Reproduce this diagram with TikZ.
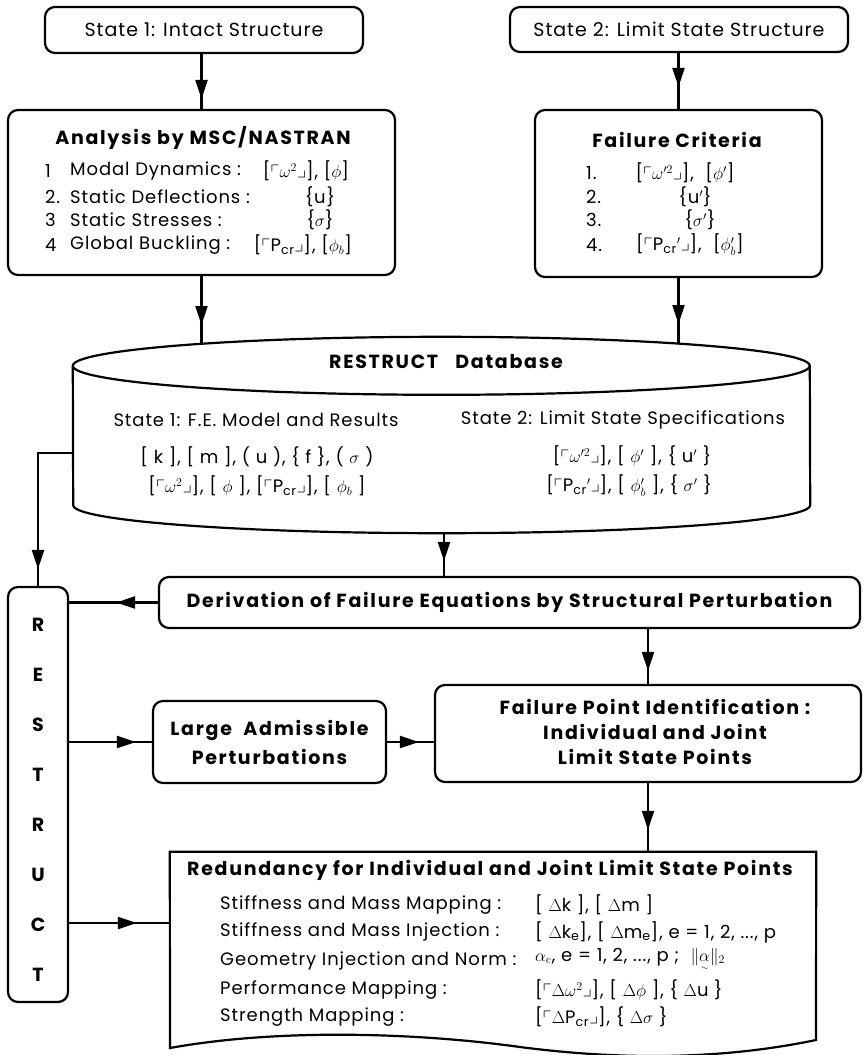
\documentclass[tikz,border=0pt]{standalone}
\usepackage{amsmath,amssymb}
\usepackage{fontspec}
\setmainfont{Poppins}[LetterSpace=5,BoldFeatures={LetterSpace=9}]
\usetikzlibrary{arrows.meta,decorations.markings}
\tikzstyle{box}=[draw,line width=2.2pt,rounded corners=10pt,inner sep=0pt]
\tikzstyle{normaltext}=[inner sep=0pt,font=\fontsize{18}{21}\selectfont]
\tikzstyle{boldtext}=[inner sep=0pt,font=\fontsize{19}{22}\selectfont\bfseries]
\tikzstyle{edge}=[draw,line width=2.2pt]
\tikzstyle{arr}=[edge,postaction={decorate},decoration={markings,mark=at position -#1 with {\arrow{Triangle[length=19pt,width=12pt]}}}]
\newcommand{\diagm}[1]{$\ulcorner$#1$\lrcorner$}
\newcommand{\tildevec}[1]{\underset{\raisebox{1.5pt}{$\scriptscriptstyle\sim$}}{#1}}

\begin{document}
\begin{tikzpicture}[x=1pt,y=-1pt]
    \useasboundingbox (0,0) rectangle (863,1055);
    % The two states on top
    \node[box,normaltext,font=\fontsize{19}{22}\selectfont,minimum width=318pt,minimum height=46pt] (state1) at (204,30) {State 1: Intact Structure};
    \node[box,normaltext,font=\fontsize{19}{22}\selectfont,minimum width=338pt,minimum height=45pt] (state2) at (679,29.5) {State 2: Limit State Structure};

    % Analysis and failure criteria
    \node[box,minimum width=387pt,minimum height=165pt] (analysis) at (201.5,192.5) {};
    \node[boldtext] (anatitle) at (203,138) {Analysis by MSC/NASTRAN};
    \foreach \i/\y/\n/\lab/\val/\vx in {1/171/1/{Modal Dynamics :}/{[\diagm{$\omega^2$}], [$\phi$]}/306,
        2/197/2./{Static Deflections :}/{\{u\}}/320,
        3/220/3/{Static Stresses :}/{\{$\sigma$\}}/320,
        4/245/4/{Global Buckling :}/{[\diagm{P\textsubscript{cr}}], [$\phi_b$]}/303}
    {
        \node[normaltext,anchor=west] (anum\i) at (45,\y) {\n};
        \node[normaltext,anchor=west] (alab\i) at (70,\y) {\lab};
        \node[normaltext] (aval\i) at (\vx,\y) {\val};
    }

    \node[box,minimum width=287pt,minimum height=167pt] (crit) at (678.5,193.5) {};
    \node[boldtext] (crittitle) at (677,140) {Failure Criteria};
    \foreach \i/\y/\val/\vx in {1/173/{[\diagm{$\omega'^2$}], \ [$\phi'$]}/685,
        2/197/{\{u$'$\}}/695,
        3/220/{\{$\sigma'$\}}/700,
        4/245/{[\diagm{P\textsubscript{cr}$'$}], \ [$\phi_b'$]}/690}
    {
        \node[normaltext,anchor=west] (cnum\i) at (586,\y) {\i.};
        \node[normaltext] (cval\i) at (\vx,\y) {\val};
    }

    % Database cylinder
    \node[minimum width=737pt,minimum height=139pt,inner sep=0pt] (db) at (441.5,435.5) {};
    \draw[edge] (db.north west) arc[start angle=180,end angle=360,x radius=368.5,y radius=29]
        -- (db.south east) arc[start angle=0,end angle=180,x radius=368.5,y radius=28] -- cycle;
    \draw[edge] (db.north west) arc[start angle=180,end angle=0,x radius=368.5,y radius=29];
    \node[boldtext] (dbtitle) at (446,362) {RESTRUCT\ \ \ Database};
    \node[normaltext] (s1head) at (256,420) {State 1: F.E. Model and Results};
    \node[normaltext] (s1row1) at (257,457) {[ k ], [ m ], ( u ), \{ f \}, ( $\sigma$ )};
    \node[normaltext] (s1row2) at (257,486) {[\diagm{$\omega^2$}], [ $\phi$ ], [\diagm{P\textsubscript{cr}}], [ $\phi_b$ ]};
    \node[normaltext] (s2head) at (623,420) {State 2: Limit State Specifications};
    \node[normaltext] (s2row1) at (632,456) {[\diagm{$\omega'^2$}], [ $\phi'$ ], \{ u$'$ \}};
    \node[normaltext] (s2row2) at (629,486) {[\diagm{P\textsubscript{cr}$'$}], [ $\phi_b'$ ], \{ $\sigma'$ \}};
    \coordinate (dbin1) at (201.5,344);
    \coordinate (dbin2) at (678.5,344);
    \coordinate (dbout) at (444,533);
    \coordinate (dbleft) at (73,453);

    % Lower part of the chart
    \node[box,boldtext,minimum width=701pt,minimum height=51pt] (deriv) at (509.5,602.5) {Derivation of Failure Equations by Structural Perturbation};
    \node[box,minimum width=60pt,minimum height=415pt] (restruct) at (38,794.5) {};
    \foreach \c [count=\i from 0] in {R,E,S,T,R,U,C,T}
        \node[boldtext] (rs\i) at (38,625+50*\i) {\c};
    \node[box,boldtext,minimum width=233pt,minimum height=82pt,align=center,font=\fontsize{19}{29}\selectfont\bfseries] (large) at (269.5,742) {Large\ \ Admissible\\Perturbations};
    \node[box,minimum width=426pt,minimum height=97pt] (fail) at (648,733.5) {};
    \node[boldtext,align=center,font=\fontsize{19}{25}\selectfont\bfseries] (failtext) at (655,732) {Failure Point Identification :\\Individual and Joint\\Limit State Points};

    % Redundancy sheet
    \node[minimum width=646pt,minimum height=192pt,inner sep=0pt] (red) at (493,948) {};
    \draw[edge] (red.north west) -- (red.north east) -- (816,1040)
        .. controls (720,1060) and (620,1060) .. (520,1047)
        .. controls (420,1033) and (280,1028) .. (170,1048) -- cycle;
    \node[boldtext] (redtitle) at (490,870) {Redundancy for Individual and Joint Limit State Points};
    \foreach \i/\y/\lab/\val in {1/905/{Stiffness and Mass Mapping :}/{[ $\Delta$k ], [ $\Delta$m ]},
        2/932/{Stiffness and Mass Injection :}/{[ $\Delta$k\textsubscript{e}], [ $\Delta$m\textsubscript{e}], e = 1, 2, ..., p},
        3/961/{Geometry Injection and Norm :}/{$\alpha_e$, e = 1, 2, ..., p ;\ \ $\|\tildevec{\alpha}\|_2$},
        4/990/{Performance Mapping :}/{[\diagm{$\Delta\omega^2$}], [ $\Delta\phi$ ], \{ $\Delta$u \}},
        5/1017/{Strength Mapping :}/{[\diagm{$\Delta$P\textsubscript{cr}}], \{ $\Delta\sigma$ \}}}
    {
        \node[normaltext,anchor=west] (rlab\i) at (220,\y) {\lab};
        \node[normaltext,anchor=west] (rval\i) at (535,\y) {\val};
    }

    % Connectors
    \draw[arr=10pt] (state1.south -| analysis.north) -- (analysis.north);
    \draw[arr=19pt] (analysis.south) -- (dbin1);
    \draw[arr=22pt] (state2.south -| crit.north) -- (crit.north);
    \draw[arr=20pt] (crit.south) -- (dbin2);
    \draw[arr=15pt] (dbout) -- (dbout |- deriv.north);
    \draw[arr=17pt] (dbleft) -| (restruct.north);
    \draw[arr=47pt] (deriv.west) -- (restruct.east |- deriv.west);
    \draw[arr=16pt] (restruct.east |- large.west) -- (large.west);
    \draw[arr=15pt] (large.east) -- (fail.west |- large.east);
    \draw[arr=13pt] (fail.north |- deriv.south) -- (fail.north);
    \draw[arr=22pt] (fail.south) -- (fail.south |- red.north);
    \draw[arr=33pt] (restruct.east |- 0,923) -- (red.west |- 0,923);
\end{tikzpicture}
\end{document}
